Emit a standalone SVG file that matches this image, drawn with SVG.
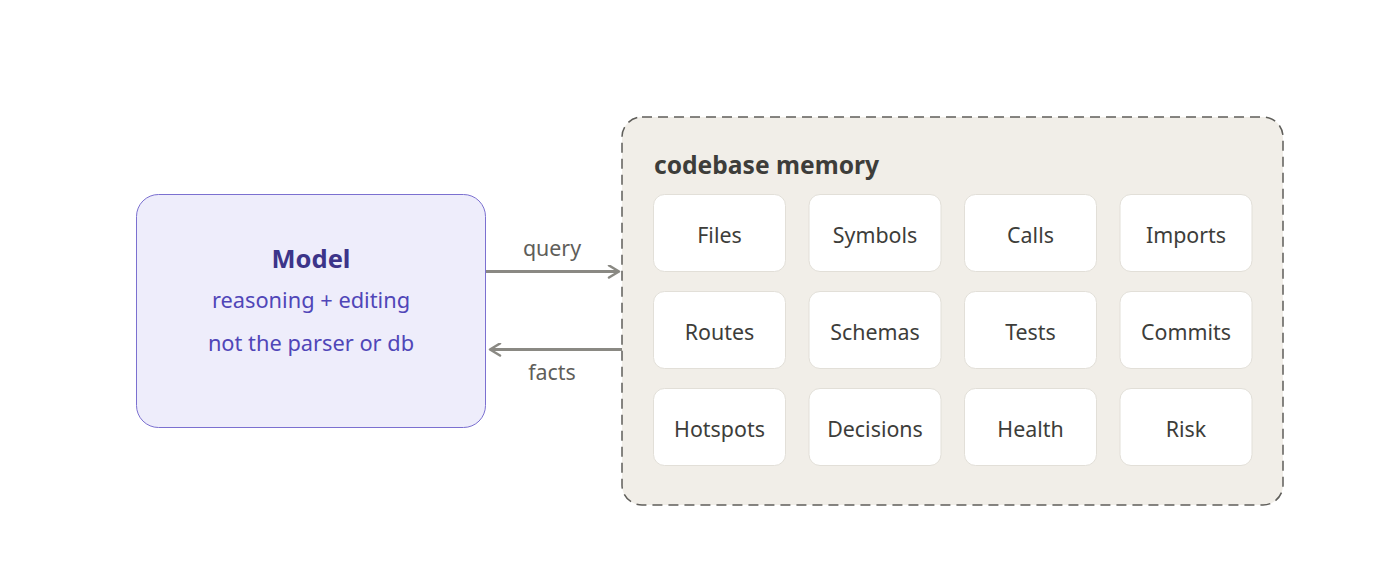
<svg xmlns="http://www.w3.org/2000/svg" width="1400" height="583" viewBox="0 0 1400 583">
<style>
  .cell { fill: #ffffff; stroke: #e2dfd8; stroke-width: 1; }
  .cellText { font-family: "Noto Sans", "Open Sans", sans-serif; font-size: 21.4px; fill: #3d3d3a; text-anchor: middle; }
  .edge { stroke: #8a8983; stroke-width: 3; fill: none; }
  .edgeLabel { font-family: "Noto Sans", "Open Sans", sans-serif; font-size: 21.4px; fill: #5f5e5a; text-anchor: middle; }
</style>
<defs>
  <marker id="chev" viewBox="0 0 14 14" refX="12" refY="7" markerWidth="14" markerHeight="14" markerUnits="userSpaceOnUse" orient="auto">
    <path d="M2,1 L12,7 L2,13" fill="none" stroke="#8a8983" stroke-width="2.5" stroke-linecap="round" stroke-linejoin="round"/>
  </marker>
</defs>
<rect width="1400" height="583" fill="#ffffff"/>

<g id="model">
  <rect x="136.5" y="194.5" width="349" height="233" rx="22" fill="#eeedfb" stroke="#7b70d0" stroke-width="1"/>
  <text x="311" y="268" font-family="Noto Sans, Open Sans, sans-serif" font-size="25.5" font-weight="700" fill="#3c3489" text-anchor="middle">Model</text>
  <text x="311" y="308" font-family="Noto Sans, Open Sans, sans-serif" font-size="21.8" fill="#5046b8" text-anchor="middle">reasoning + editing</text>
  <text x="311" y="351" font-family="Noto Sans, Open Sans, sans-serif" font-size="21.8" fill="#5046b8" text-anchor="middle">not the parser or db</text>
</g>

<g id="memory">
  <rect x="622" y="117" width="661" height="388" rx="20" fill="#f1eee8" stroke="#5f5e5a" stroke-width="1.5" stroke-dasharray="10 6"/>
  <text x="654" y="174" font-family="Noto Sans, Open Sans, sans-serif" font-size="24.6" font-weight="700" fill="#3d3d3a">codebase memory</text>
</g>

<g id="cell-files"><rect class="cell" x="653.5" y="194.5" width="132" height="77" rx="11"/><text class="cellText" x="719.5" y="243">Files</text></g>
<g id="cell-symbols"><rect class="cell" x="809" y="194.5" width="132" height="77" rx="11"/><text class="cellText" x="875" y="243">Symbols</text></g>
<g id="cell-calls"><rect class="cell" x="964.5" y="194.5" width="132" height="77" rx="11"/><text class="cellText" x="1030.5" y="243">Calls</text></g>
<g id="cell-imports"><rect class="cell" x="1120" y="194.5" width="132" height="77" rx="11"/><text class="cellText" x="1186" y="243">Imports</text></g>

<g id="cell-routes"><rect class="cell" x="653.5" y="291.5" width="132" height="77" rx="11"/><text class="cellText" x="719.5" y="340">Routes</text></g>
<g id="cell-schemas"><rect class="cell" x="809" y="291.5" width="132" height="77" rx="11"/><text class="cellText" x="875" y="340">Schemas</text></g>
<g id="cell-tests"><rect class="cell" x="964.5" y="291.5" width="132" height="77" rx="11"/><text class="cellText" x="1030.5" y="340">Tests</text></g>
<g id="cell-commits"><rect class="cell" x="1120" y="291.5" width="132" height="77" rx="11"/><text class="cellText" x="1186" y="340">Commits</text></g>

<g id="cell-hotspots"><rect class="cell" x="653.5" y="388.5" width="132" height="77" rx="11"/><text class="cellText" x="719.5" y="437">Hotspots</text></g>
<g id="cell-decisions"><rect class="cell" x="809" y="388.5" width="132" height="77" rx="11"/><text class="cellText" x="875" y="437">Decisions</text></g>
<g id="cell-health"><rect class="cell" x="964.5" y="388.5" width="132" height="77" rx="11"/><text class="cellText" x="1030.5" y="437">Health</text></g>
<g id="cell-risk"><rect class="cell" x="1120" y="388.5" width="132" height="77" rx="11"/><text class="cellText" x="1186" y="437">Risk</text></g>

<g id="connectors">
  <line class="edge" x1="486" y1="271.5" x2="619" y2="271.5" marker-end="url(#chev)"/>
  <text class="edgeLabel" x="552" y="256">query</text>
  <line class="edge" x1="622" y1="349.5" x2="490" y2="349.5" marker-end="url(#chev)"/>
  <text class="edgeLabel" x="552" y="380">facts</text>
</g>
</svg>
